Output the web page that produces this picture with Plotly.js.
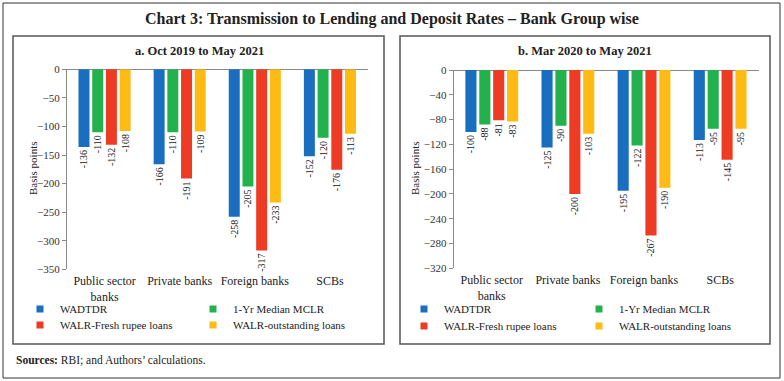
<!DOCTYPE html>
<html><head><meta charset="utf-8">
<script src="https://cdn.plot.ly/plotly-3.0.1.min.js"></script>
<style>html,body{margin:0;padding:0;background:#fff}</style>
</head><body><div id="chart" style="width:784px;height:381px"></div>
<script>
// ---- data ----
const categories = ['Public sector<br>banks', 'Private banks', 'Foreign banks', 'SCBs'];
const seriesNames = ['WADTDR', '1-Yr Median MCLR', 'WALR-Fresh rupee loans', 'WALR-outstanding loans'];
// Panel a: Oct 2019 to May 2021
const a_WADTDR = [-136, -166, -258, -152];
const a_MCLR   = [-110, -110, -205, -120];
const a_WALRFresh = [-132, -191, -317, -176];
const a_WALROut   = [-108, -109, -233, -113];
// Panel b: Mar 2020 to May 2021
const b_WADTDR = [-100, -125, -195, -113];
const b_MCLR   = [-88, -90, -122, -95];
const b_WALRFresh = [-81, -200, -267, -145];
const b_WALROut   = [-83, -103, -190, -95];
const yTicksA = [0, -50, -100, -150, -200, -250, -300, -350];
const yTicksB = [0, -40, -80, -120, -160, -200, -240, -280, -320];

// ---- style ----
const W = 784, H = 381;
const px = x => x / W;
const py = y => 1 - y / H;
const colors = ['#1a6ebf', '#22b14c', '#ee3b24', '#fdbb14'];
const FONT = 'Liberation Serif, DejaVu Serif, serif';
const seriesA = [a_WADTDR, a_MCLR, a_WALRFresh, a_WALROut];
const seriesB = [b_WADTDR, b_MCLR, b_WALRFresh, b_WALROut];

const traces = [];
function addPanel(series, xa, ya, legendOffset) {
  series.forEach((vals, i) => {
    traces.push({
      type: 'bar', x: categories, y: vals, name: seriesNames[i],
      xaxis: xa, yaxis: ya, showlegend: false, legendgroup: seriesNames[i],
      marker: {color: colors[i]},
      text: vals.map(String), textposition: 'outside', textangle: -90,
      constraintext: 'none', cliponaxis: false,
      textfont: {family: FONT, size: 10, color: '#222'},
      hoverinfo: 'skip'
    });
  });
  // legend entries (small square keys, no marks drawn)
  series.forEach((vals, i) => {
    const n = legendOffset + i;
    traces.push({
      type: 'scatter', mode: 'markers', x: [null], y: [null], name: seriesNames[i],
      xaxis: xa, yaxis: ya, showlegend: true, legendgroup: seriesNames[i],
      legend: 'legend' + (n === 1 ? '' : n),
      marker: {color: colors[i], symbol: 'square', size: 7, line: {width: 0}},
      hoverinfo: 'skip'
    });
  });
}
addPanel(seriesA, 'x', 'y', 1);
addPanel(seriesB, 'x2', 'y2', 5);

const legendText = [[60, 309], [233, 309], [60, 325], [233, 325],
                    [444, 309], [619, 309], [444, 326], [619, 326]];
const axisY = (domain, range, ticks) => ({
  domain: domain, range: range, tickvals: ticks,
  showline: true, linecolor: '#8a8a8a', linewidth: 1, ticks: 'outside', ticklen: 4,
  tickcolor: '#8a8a8a', showgrid: false, zeroline: true, zerolinecolor: '#8a8a8a',
  zerolinewidth: 1, tickfont: {family: FONT, size: 11, color: '#333'}, fixedrange: true
});
const axisX = (domain) => ({
  domain: domain, showline: false, ticks: '', showgrid: false, ticklabelstandoff: 3,
  tickfont: {family: FONT, size: 12, color: '#222'}, fixedrange: true
});
const layout = {
  width: W, height: H, margin: {l: 0, r: 0, t: 0, b: 0},
  paper_bgcolor: '#fff', plot_bgcolor: '#fff',
  barmode: 'group', bargap: 0.27, bargroupgap: 0.2,
  font: {family: FONT, color: '#222'},
  showlegend: true,
  xaxis: Object.assign(axisX([px(67), px(368)]), {anchor: 'y'}),
  yaxis: Object.assign(axisY([py(269.3), py(69.3)], [-350, 0], yTicksA), {anchor: 'x'}),
  xaxis2: Object.assign(axisX([px(453.7), px(758.7)]), {anchor: 'y2'}),
  yaxis2: Object.assign(axisY([py(268.3), py(70)], [-320, 0], yTicksB), {anchor: 'x2'}),
  shapes: [
    {type: 'rect', xref: 'paper', yref: 'paper', x0: px(3), x1: px(780), y0: py(378), y1: py(3),
     line: {color: '#333', width: 1}},
    {type: 'rect', xref: 'paper', yref: 'paper', x0: px(13), x1: px(384), y0: py(344), y1: py(36),
     line: {color: '#555', width: 1.5}},
    {type: 'rect', xref: 'paper', yref: 'paper', x0: px(400), x1: px(770), y0: py(344), y1: py(36),
     line: {color: '#555', width: 1.5}}
  ],
  annotations: [
    {text: '<b>Chart 3: Transmission to Lending and Deposit Rates – Bank Group wise</b>',
     xref: 'paper', yref: 'paper', x: px(392), y: py(19), xanchor: 'center', yanchor: 'middle',
     showarrow: false, font: {family: FONT, size: 16, color: '#222'}},
    {text: '<b>a. Oct 2019 to May 2021</b>', xref: 'paper', yref: 'paper', x: px(199.5), y: py(51),
     xanchor: 'center', yanchor: 'middle', showarrow: false, font: {family: FONT, size: 12.5, color: '#222'}},
    {text: '<b>b. Mar 2020 to May 2021</b>', xref: 'paper', yref: 'paper', x: px(584.5), y: py(51),
     xanchor: 'center', yanchor: 'middle', showarrow: false, font: {family: FONT, size: 12.5, color: '#222'}},
    {text: 'Basis points', xref: 'paper', yref: 'paper', x: px(33), y: py(169), textangle: -90,
     xanchor: 'center', yanchor: 'middle', showarrow: false, font: {family: FONT, size: 11, color: '#222'}},
    {text: 'Basis points', xref: 'paper', yref: 'paper', x: px(415), y: py(169), textangle: -90,
     xanchor: 'center', yanchor: 'middle', showarrow: false, font: {family: FONT, size: 11, color: '#222'}},
    {text: '<b>Sources:</b> RBI; and Authors\u2019 calculations.', xref: 'paper', yref: 'paper',
     x: px(14), y: py(360), xanchor: 'left', yanchor: 'middle', showarrow: false,
     font: {family: FONT, size: 11.5, color: '#222'}}
  ]
};
// boundary tick marks above the zero line
[['x', 'y'], ['x2', 'y2']].forEach(([xa, ya]) => {
  [0.5, 1.5, 2.5, 3.5].forEach(b => {
    layout.shapes.push({type: 'line', xref: xa, yref: ya, ysizemode: 'pixel', yanchor: 0,
      x0: b, x1: b, y0: 0, y1: 4, line: {color: '#8a8a8a', width: 1}});
  });
});
legendText.forEach(([tx, ty], i) => {
  const key = 'legend' + (i === 0 ? '' : (i + 1));
  layout[key] = {x: px(tx - 40), y: py(ty), xanchor: 'left', yanchor: 'middle',
    bgcolor: 'rgba(0,0,0,0)', borderwidth: 0, font: {family: FONT, size: 11, color: '#222'},
    orientation: 'v'};
});
Plotly.newPlot('chart', traces, layout, {staticPlot: true});
</script></body></html>
